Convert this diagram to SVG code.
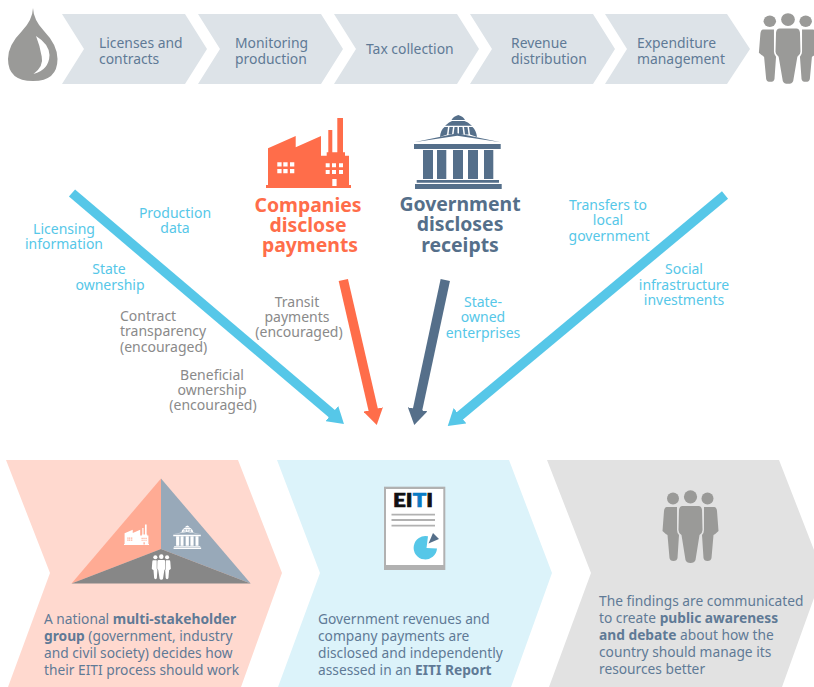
<svg xmlns="http://www.w3.org/2000/svg" xmlns:xlink="http://www.w3.org/1999/xlink" width="814" height="687" viewBox="0 0 814 687">
<style>
text{font-family:"Noto Sans","Open Sans","Liberation Sans",sans-serif;font-size:14px}
.step{fill:#dde3e8}
.st{fill:#5f7a96;font-size:13.9px}
.body{fill:#5f7a96;font-size:13.75px}
.b{font-weight:700}
.lb{fill:#56c7e8;text-anchor:middle}
.lg{fill:#8a8a8a;text-anchor:middle}
.lgl{fill:#8a8a8a}
.h{font-size:19.4px;font-weight:700;text-anchor:middle}
.ar{stroke-width:9.5;fill:none}
.ink{fill:#9a9a98}
</style>
<defs>
<marker id="mB" markerUnits="userSpaceOnUse" markerWidth="16" markerHeight="20" viewBox="0 0 16 20" refX="2" refY="10" orient="auto"><path d="M0 0L16 10L0 20Z" fill="#56c7e8"/></marker>
<marker id="mO" markerUnits="userSpaceOnUse" markerWidth="16" markerHeight="20" viewBox="0 0 16 20" refX="2" refY="10" orient="auto"><path d="M0 0L16 10L0 20Z" fill="#ff6d4a"/></marker>
<marker id="mD" markerUnits="userSpaceOnUse" markerWidth="16" markerHeight="20" viewBox="0 0 16 20" refX="2" refY="10" orient="auto"><path d="M0 0L16 10L0 20Z" fill="#556f8a"/></marker>
<g id="people">
<circle cx="0" cy="6.8" r="6.6"/><circle cx="-17.5" cy="8.5" r="6"/><circle cx="17" cy="8.5" r="6"/>
<path d="M-24 17H-13.5L-13.5 40Q-13.500 43-11.500 45L-13 68Q-13.500 71-17 71Q-20.500 71-21 68L-23 45Q-25 44-28 41L-26.500 21Q-26 17-24 17Z"/>
<path d="M24 17H13.500L13.500 40Q13.500 43 11.500 45L13 68Q13.500 71 17 71Q20.500 71 21 68L23 45Q25 44 28 41L26.500 21Q26 17 24 17Z"/>
<path d="M-8 16H8Q11 16 11.500 20L12 40Q12 43 9 45L5 70Q4 73 0 73Q-4 73-5 70L-9 45Q-12 43-12 40L-11.500 20Q-11 16-8 16Z"/>
</g>
<g id="factory">
<path fill-rule="evenodd" d="M266 188V185H268V148.300L295.700 136V147.300L321 136V155.700H326.700V152.300H328.300V130H332.300V152.300H337.300V118H343V152.300H345V155.700H349V185H351V188Z
M277.300 162.300h4.300v4.300h-4.300zM283.300 162.300h4.300v4.300h-4.300zM290 162.300h4.300v4.300h-4.300zM277.300 169h4.300v4.300h-4.300zM283.300 169h4.300v4.300h-4.300zM290 169h4.300v4.300h-4.300z
M325.700 163.300h4v4h-4zM332 163.300h4v4h-4zM339 163.300h4v4h-4zM325.700 170h4v4h-4zM332 170h4v4h-4zM339 170h4v4h-4zM332.300 179h4.300v7h-4.300z"/>
</g>
<g id="gov">
<path d="M451.500 120Q453 116.500 458.300 115Q463.500 116.500 465 120Z"/>
<path d="M446 125Q449 122 452 121H464.500Q468 122 471 125L472 125.800H445Z"/>
<path d="M440 137Q440.500 130 444.500 127H448L447 134.500ZM449.500 127H453L452 134.500H448.500ZM454.500 127H457.500V134.500H453.500ZM459 127H462.500L463.500 134.500H459ZM464 127H467.500L468.500 134.500H465ZM469 127H472.500Q476 130 477 137L470 134.500Z"/>
<path d="M414 142.300L457.300 133.300L500.700 142.300L457.300 135.800Z"/>
<path d="M414 144H500.700V149H414ZM423 150H433V179H423ZM437 150H446.300V179H437ZM453 150H463V179H453ZM468 150H478V179H468ZM484 150H493.300V179H484ZM416.700 180H499V182.800H416.700ZM415 184H501.700V189H415Z"/>
</g>
</defs>
<rect width="814" height="687" fill="#fff"/>

<g id="drop"><path d="M33 8Q33.500 20 44 31Q57.500 45 57.500 59Q57.500 81 33 81Q8 81 8 59Q8 45 22 31Q32.500 20 33 8Z" fill="#9a9a98"/><path d="M36 36Q49 44 49.500 55Q49 70 33.500 74Q44 66 41.700 56.500Q40 46 36 36Z" fill="#fff"/></g>

<g id="step1"><polygon class="step" points="62,14 185,14 207,49 185,84 62,84 84,49"/><text class="st" x="99" y="48">Licenses and</text><text class="st" x="99" y="64">contracts</text></g>
<g id="step2"><polygon class="step" points="198,14 321,14 343,49 321,84 198,84 220,49"/><text class="st" x="235" y="48">Monitoring</text><text class="st" x="235" y="64">production</text></g>
<g id="step3"><polygon class="step" points="334,14 457,14 479,49 457,84 334,84 356,49"/><text class="st" x="366" y="54">Tax collection</text></g>
<g id="step4"><polygon class="step" points="470,14 593,14 615,49 593,84 470,84 492,49"/><text class="st" x="511" y="48">Revenue</text><text class="st" x="511" y="64">distribution</text></g>
<g id="step5"><polygon class="step" points="605,14 727,14 750,49 727,84 605,84 627,49"/><text class="st" x="637" y="48">Expenditure</text><text class="st" x="637" y="64">management</text></g>

<g id="people-top"><use xlink:href="#people" href="#people" class="ink" transform="translate(788,13) scale(1.04,0.97)"/></g>

<g id="companies"><use xlink:href="#factory" href="#factory" fill="#ff6d4a"/>
<text class="h" fill="#ff6d4a" x="308" y="212">Companies</text><text class="h" fill="#ff6d4a" x="308" y="232">disclose</text><text class="h" fill="#ff6d4a" x="310" y="252">payments</text></g>
<g id="government"><use xlink:href="#gov" href="#gov" fill="#556f8a"/>
<text class="h" fill="#556f8a" x="460" y="211">Government</text><text class="h" fill="#556f8a" x="460" y="231">discloses</text><text class="h" fill="#556f8a" x="460" y="252">receipts</text></g>

<g id="connectors">
<line class="ar" stroke="#56c7e8" x1="72" y1="193" x2="333.300" y2="414.900" marker-end="url(#mB)"/>
<line class="ar" stroke="#ff6d4a" x1="343.300" y1="280" x2="373.600" y2="411.400" marker-end="url(#mO)"/>
<line class="ar" stroke="#556f8a" x1="445.300" y1="280" x2="417.200" y2="411.300" marker-end="url(#mD)"/>
<line class="ar" stroke="#56c7e8" x1="725" y1="195" x2="458.500" y2="417" marker-end="url(#mB)"/>
</g>

<g id="labels">
<text class="lb" x="64" y="234">Licensing</text><text class="lb" x="64" y="249">information</text>
<text class="lb" x="175" y="218">Production</text><text class="lb" x="175" y="233">data</text>
<text class="lb" x="109" y="274">State</text><text class="lb" x="110" y="290">ownership</text>
<text class="lgl" x="120" y="321">Contract</text><text class="lgl" x="120" y="336">transparency</text><text class="lgl" x="120" y="352">(encouraged)</text>
<text class="lg" x="212" y="380">Beneficial</text><text class="lg" x="212" y="395">ownership</text><text class="lg" x="213" y="410">(encouraged)</text>
<text class="lg" x="297" y="307">Transit</text><text class="lg" x="297" y="322">payments</text><text class="lg" x="299" y="337">(encouraged)</text>
<text class="lb" x="483" y="307">State-</text><text class="lb" x="483" y="322">owned</text><text class="lb" x="483" y="338">enterprises</text>
<text class="lb" x="608" y="210">Transfers to</text><text class="lb" x="608" y="225">local</text><text class="lb" x="609" y="241">government</text>
<text class="lb" x="684" y="274">Social</text><text class="lb" x="684" y="290">infrastructure</text><text class="lb" x="684" y="305">investments</text>
</g>

<g id="panel-msg"><polygon fill="#ffd9cf" points="6,460 238,460 282,573 241,687 8,687 50,573"/>
<polygon fill="#ffab94" points="161,478.500 71.500,583.500 161,549"/><polygon fill="#98a9b9" points="161,478.500 250.700,583.500 161,549"/><polygon fill="#878787" points="161,549 71.500,583.500 250.700,583.500"/>
<use xlink:href="#factory" href="#factory" fill="#fff" transform="translate(45.800,489.700) scale(.294)"/>
<use xlink:href="#gov" href="#gov" fill="#fff" transform="translate(41.600,488.900) scale(.318)"/>
<use xlink:href="#people" href="#people" fill="#fff" transform="translate(161.300,554.300) scale(.34,.35)"/>
<text class="body" x="44" y="624">A national <tspan class="b">multi-stakeholder</tspan></text>
<text class="body" x="44" y="641"><tspan class="b">group</tspan> (government, industry</text>
<text class="body" x="44" y="658">and civil society) decides how</text>
<text class="body" x="44" y="675">their EITI process should work</text></g>

<g id="panel-report"><polygon fill="#dcf3fa" points="277,460 509,460 552,573 511,687 278,687 320,573"/>
<rect x="384" y="486.700" width="61.300" height="83.300" fill="#b1b1b1"/><rect x="386" y="489" width="57.300" height="76" fill="#fff"/>
<text x="393" y="507" textLength="40" lengthAdjust="spacingAndGlyphs" stroke="#111" stroke-width=".7" style="font-family:Lato,sans-serif;font-weight:900;font-size:18.500px" fill="#111">EI<tspan fill="#0a7cc4" stroke="#0a7cc4">T</tspan>I</text>
<path d="M391.500 514.700H435M391.500 520H435M391.500 525.700H435" stroke="#b1b1b1" stroke-width="1.800"/>
<path d="M426.500 548L428 536.300A11.700 11.700 0 1 0 437 548.500Z" fill="#56c7e8"/>
<path d="M428.500 543.500L433 533L439 539Z" fill="#556f8a"/>
<text class="body" x="318" y="624">Government revenues and</text>
<text class="body" x="318" y="641">company payments are</text>
<text class="body" x="318" y="658">disclosed and independently</text>
<text class="body" x="318" y="675">assessed in an <tspan class="b">EITI Report</tspan></text></g>

<g id="panel-public"><polygon fill="#e2e2e2" points="547,460 779,460 823,573 782,687 549,687 591,573"/>
<use xlink:href="#people" href="#people" class="ink" transform="translate(690.500,490)"/>
<text class="body" x="599" y="606">The findings are communicated</text>
<text class="body" x="599" y="623">to create <tspan class="b">public awareness</tspan></text>
<text class="body" x="599" y="640"><tspan class="b">and debate</tspan> about how the</text>
<text class="body" x="599" y="657">country should manage its</text>
<text class="body" x="599" y="674">resources better</text></g>
</svg>
